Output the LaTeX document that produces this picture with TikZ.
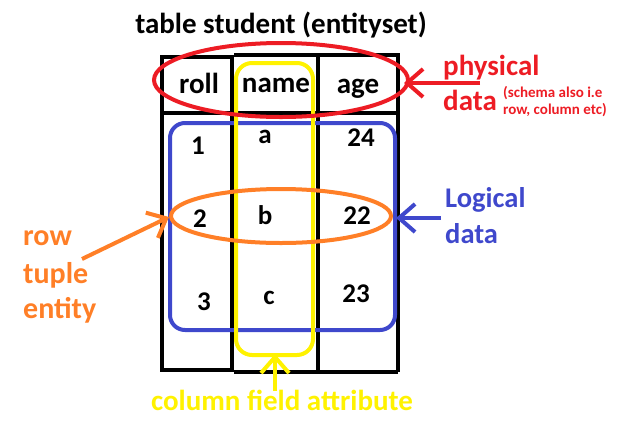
\documentclass[tikz,border=0pt]{standalone}
\usepackage{fontspec}
\setmainfont{Carlito}
\usetikzlibrary{arrows.meta}
\definecolor{pred}{RGB}{237,28,36}
\definecolor{pblue}{RGB}{63,72,204}
\definecolor{porange}{RGB}{255,127,39}
\definecolor{pyellow}{RGB}{255,242,0}
\tikzset{
  grid/.style={line width=4.5pt, black},
  txt/.style={font=\fontsize{29}{30}\selectfont\bfseries, inner sep=0pt, anchor=base},
  val/.style={font=\fontsize{27}{30}\selectfont\bfseries, inner sep=0pt, anchor=base},
  lbl/.style={font=\fontsize{29}{35}\selectfont\bfseries, inner sep=0pt, anchor=base west},
  small/.style={font=\fontsize{15}{18}\selectfont\bfseries, inner sep=0pt, anchor=base west, text=pred},
  barb/.style={-{Straight Barb[length=16pt,width=28pt,line width=4pt]}, line width=4pt}
}
\begin{document}
\begin{tikzpicture}[x=1pt,y=-1pt]
\useasboundingbox (0,0) rectangle (620,432);
% table
\draw[grid] (162,57) -- (232,57) -- (232,370) -- (162,370) -- cycle;
\draw[grid] (234,55) -- (398,55) -- (398,372);
\draw[grid] (318,55) -- (318,372);
\draw[grid] (234,372) -- (398,372);
\draw[grid] (162,113) -- (398,113);
% title
\node[txt] (title) at (281,33) {table student (entityset)};
% headers
\node[txt] (hroll) at (199,93) {roll};
\node[txt] (hname) at (276,92) {name};
\node[txt] (hage) at (358,93) {age};
% values
\node[val] (v1) at (198,154) {1};
\node[val] (va) at (265,143) {a};
\node[val] (v24) at (361,146) {24};
\node[val] (v2) at (200,227) {2};
\node[val] (vb) at (265,224) {b};
\node[val] (v22) at (357,224) {22};
\node[val] (v3) at (204,310) {3};
\node[val] (vc) at (269,304) {c};
\node[val] (v23) at (356,302) {23};
% shapes
\draw[pblue, line width=4pt, rounded corners=15pt] (170,123) rectangle (395,330);
\draw[pyellow, line width=4pt, rounded corners=16pt] (236,63) rectangle (313,355);
\draw[pred, line width=4pt] (281,80) ellipse [x radius=127, y radius=37];
\draw[porange, line width=4pt] (281,216) ellipse [x radius=110, y radius=27];
% tip coordinates
\coordinate (redtip) at (404,83);
\coordinate (bluetip) at (396,218);
\coordinate (orangetip) at (169,217);
\coordinate (yellowtip) at (275,354);
% labels
\node[lbl, text=pred] (phys1) at (443,75) {physical};
\node[lbl, text=pred] (phys2) at (443,110) {data};
\node[small] (schema1) at (503,97) {(schema also i.e};
\node[small] (schema2) at (503,114) {row, column etc)};
\node[lbl, text=pblue, font=\fontsize{28.5}{37}\selectfont\bfseries] (logic1) at (445,207) {Logical};
\node[lbl, text=pblue, font=\fontsize{28.5}{37}\selectfont\bfseries] (logic2) at (445,243) {data};
\node[lbl, text=porange, font=\fontsize{30}{36}\selectfont\bfseries] (row1) at (23,245) {row};
\node[lbl, text=porange, font=\fontsize{30}{36}\selectfont\bfseries] (row2) at (23,283) {tuple};
\node[lbl, text=porange, font=\fontsize{30}{36}\selectfont\bfseries] (row3) at (23,318) {entity};
\node[txt, text=pyellow] (col) at (282,410) {column field attribute};
% arrows
\coordinate (redstart) at (480,83);
\coordinate (bluestart) at (441,218);
\coordinate (orangestart) at (82,259);
\coordinate (yellowstart) at (275,391);
\draw[barb, pred] (redstart) -- (redtip);
\draw[barb, pblue] (bluestart) -- (bluetip);
\draw[barb, porange] (orangestart) -- (orangetip);
\draw[barb, pyellow] (yellowstart) -- (yellowtip);
\end{tikzpicture}
\end{document}
